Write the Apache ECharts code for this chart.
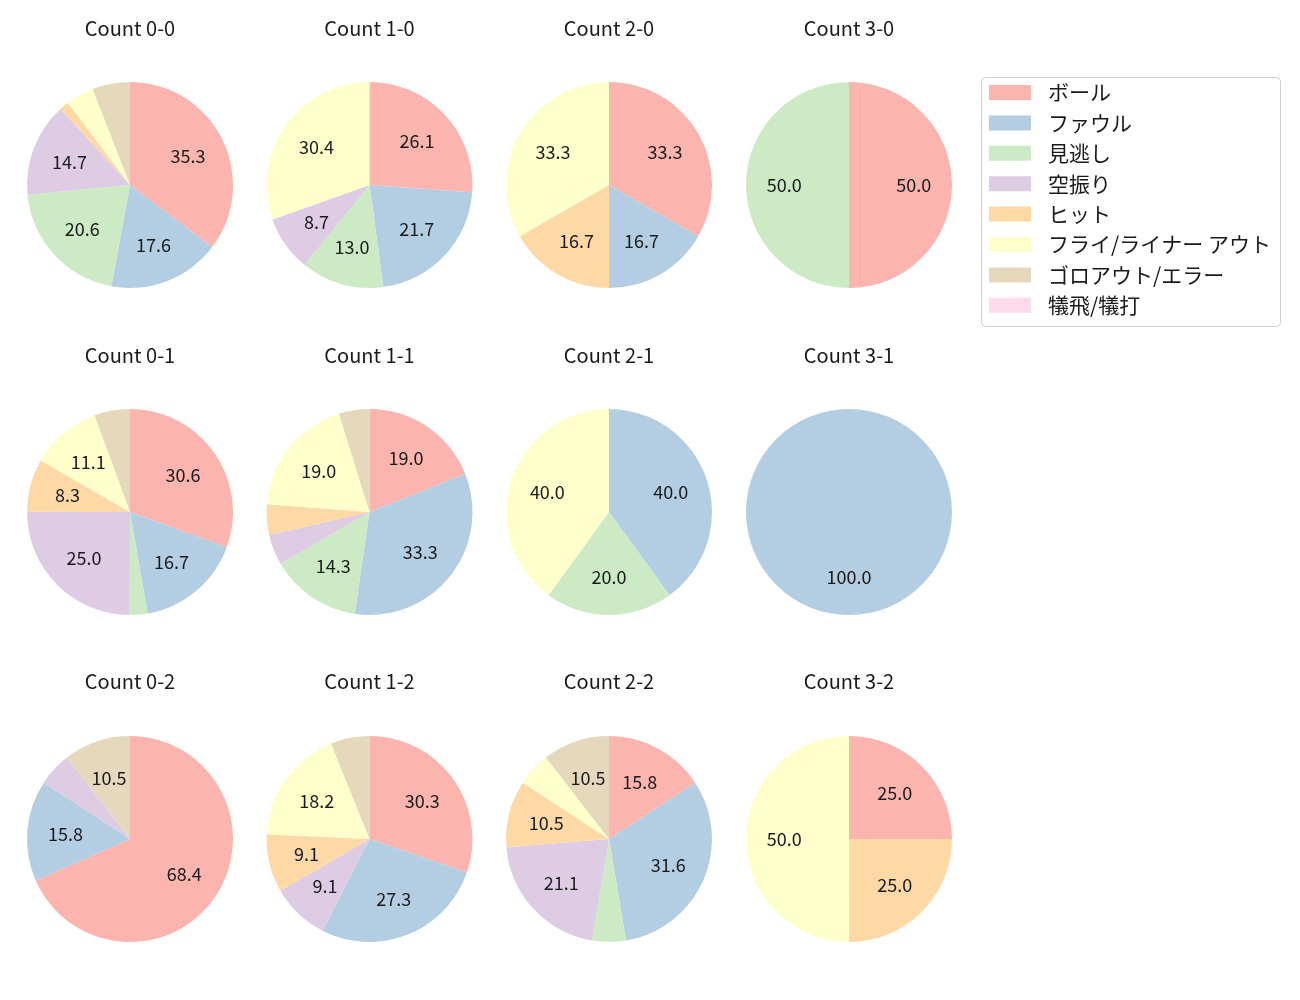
<!DOCTYPE html>
<html>
<head>
<meta charset="utf-8">
<script src="https://cdn.jsdelivr.net/npm/echarts@6/dist/echarts.min.js"></script>
<style>
html,body{margin:0;padding:0;background:#fff;}
#chart{width:1300px;height:1000px;}
</style>
</head>
<body>
<div id="chart"></div>
<script>
// Categories (legend order)
const categories = ['ボール', 'ファウル', '見逃し', '空振り', 'ヒット', 'フライ/ライナー アウト', 'ゴロアウト/エラー', '犠飛/犠打'];
// Pie titles, row by row
const titles = ['Count 0-0', 'Count 1-0', 'Count 2-0', 'Count 3-0',
                'Count 0-1', 'Count 1-1', 'Count 2-1', 'Count 3-1',
                'Count 0-2', 'Count 1-2', 'Count 2-2', 'Count 3-2'];
// Percent values per category, in the same order as titles
const ball    = [35.3, 26.1, 33.3, 50.0, 30.6, 19.0, 0, 0, 68.4, 30.3, 15.8, 25.0];
const foul    = [17.6, 21.7, 16.7, 0, 16.7, 33.3, 40.0, 100.0, 15.8, 27.3, 31.6, 0];
const looking = [20.6, 13.0, 0, 50.0, 2.8, 14.3, 20.0, 0, 0, 0, 5.3, 0];
const swinging= [14.7, 8.7, 0, 0, 25.0, 4.8, 0, 0, 5.3, 9.1, 21.1, 0];
const hit     = [1.5, 0, 16.7, 0, 8.3, 4.8, 0, 0, 0, 9.1, 10.5, 25.0];
const flyOut  = [4.4, 30.4, 33.3, 0, 11.1, 19.0, 40.0, 0, 0, 18.2, 5.3, 50.0];
const groundOut = [5.9, 0, 0, 0, 5.6, 4.8, 0, 0, 10.5, 6.1, 10.5, 0];
const sacrifice = [0, 0, 0, 0, 0, 0, 0, 0, 0, 0, 0, 0];

const colors = ['#fbb4ae', '#b3cde3', '#ccebc5', '#decbe4', '#fed9a6', '#ffffcc', '#e5d8bd', '#fddaec'];
const valueSets = [ball, foul, looking, swinging, hit, flyOut, groundOut, sacrifice];

const FONT = '"Noto Sans CJK JP", "Noto Sans", sans-serif';
const colX = [130, 369.5, 609, 849];
const rowY = [185, 512, 839];
const R = 103;
const titleY = [28.5, 355.5, 681.5];
const LABEL_MIN = 7;

const series = [];
const graphics = [{
  type: 'rect', shape: { x: 981.5, y: 77.5, width: 299, height: 249, r: 4 },
  style: { fill: '#fff', stroke: '#d0d0d0', lineWidth: 1 }, z: -1, silent: true
}];
titles.forEach((t, i) => {
  const r = Math.floor(i / 4), c = i % 4;
  const data = categories.map((name, k) => ({ name, value: valueSets[k][i], itemStyle: { color: colors[k] } }));
  series.push({
    type: 'pie', center: [colX[c], rowY[r]], radius: [0, R],
    startAngle: 90, clockwise: true, silent: true, animation: false,
    label: { show: false }, labelLine: { show: false },
    itemStyle: { borderWidth: 0 },
    data
  });
  series.push({
    type: 'pie', center: [colX[c], rowY[r]], radius: [R * 0.2, R],
    startAngle: 90, clockwise: true, silent: true, animation: false,
    itemStyle: { color: 'rgba(0,0,0,0)', borderWidth: 0 },
    label: {
      show: true, position: 'inside', color: '#1a1a1a', fontSize: 18, fontFamily: FONT,
      formatter: p => (p.value >= LABEL_MIN ? p.value.toFixed(1) : '')
    },
    labelLine: { show: false },
    data: categories.map((name, k) => ({ name, value: valueSets[k][i] }))
  });
  graphics.push({
    type: 'text', x: colX[c], y: titleY[r], silent: true,
    style: { text: t, align: 'center', verticalAlign: 'middle', fontSize: 20, fill: '#1a1a1a', fontFamily: FONT }
  });
});

const chart = echarts.init(document.getElementById('chart'), null, { renderer: 'canvas' });
chart.setOption({
  backgroundColor: '#fff',
  animation: false,
  legend: {
    orient: 'vertical', left: 984, top: 77,
    itemWidth: 42, itemHeight: 15, itemGap: 9.4,
    icon: 'rect', selectedMode: false,
    data: categories.map((name, k) => ({ name, itemStyle: { color: colors[k] } })),
    textStyle: { fontSize: 21, lineHeight: 20, color: '#1a1a1a', fontFamily: FONT, padding: [0, 0, 0, 12] }
  },
  graphic: graphics,
  series
});
</script>
</body>
</html>
